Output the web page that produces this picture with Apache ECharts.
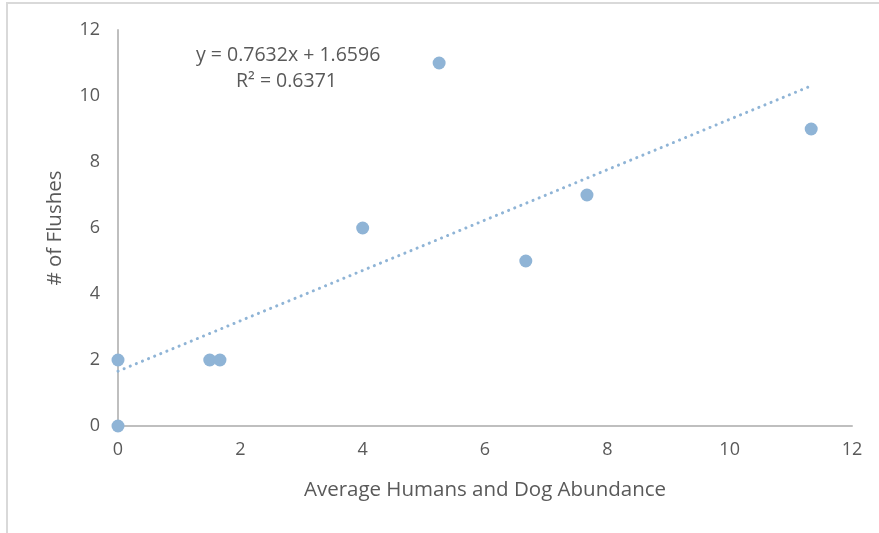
<!DOCTYPE html>
<html>
<head>
<meta charset="utf-8">
<script src="https://cdn.jsdelivr.net/npm/echarts@6/dist/echarts.min.js"></script>
<style>html,body{margin:0;padding:0;background:#fff;}#c{width:879px;height:533px;}</style>
</head>
<body>
<div id="c"></div>
<script>
const xValues = [0, 0, 1.5, 1.667, 4, 5.25, 6.667, 7.667, 11.333];
const yValues = [0, 2, 2, 2, 6, 11, 5, 7, 9];
const slope = 0.7632;
const intercept = 1.6596;
const rSquared = 0.6371;
const trendX = [0, 11.333];
const xTicks = [0, 2, 4, 6, 8, 10, 12];
const yTicks = [0, 2, 4, 6, 8, 10, 12];

const points = xValues.map((x, i) => [x, yValues[i]]);
const trend = trendX.map(x => [x, slope * x + intercept]);
const font = '"Open Sans", sans-serif';
const textColor = '#595959';
const chart = echarts.init(document.getElementById('c'));
chart.setOption({
  animation: false,
  grid: {left: 118, right: 27, top: 30, bottom: 107},
  xAxis: {
    type: 'value', min: 0, max: 12, interval: 2,
    name: 'Average Humans and Dog Abundance', nameLocation: 'middle', nameGap: 54,
    nameTextStyle: {color: textColor, fontSize: 20.5, fontFamily: font},
    axisLine: {show: true, onZero: false, lineStyle: {color: '#bfbfbf', width: 2}},
    axisTick: {show: false}, splitLine: {show: false},
    axisLabel: {color: textColor, fontSize: 18, fontFamily: font, margin: 15,
      formatter: v => xTicks.includes(v) ? String(v) : ''}
  },
  yAxis: {
    type: 'value', min: 0, max: 12, interval: 2,
    name: '# of Flushes', nameLocation: 'middle', nameGap: 52,
    nameTextStyle: {color: textColor, fontSize: 20.5, fontFamily: font},
    axisLine: {show: true, onZero: false, lineStyle: {color: '#bfbfbf', width: 2}},
    axisTick: {show: false}, splitLine: {show: false},
    axisLabel: {color: textColor, fontSize: 18, fontFamily: font, margin: 18,
      formatter: v => yTicks.includes(v) ? String(v) : ''}
  },
  graphic: [
    {type: 'rect', shape: {x: 6, y: 2, width: 873, height: 2}, style: {fill: '#d9d9d9'}},
    {type: 'rect', shape: {x: 6, y: 2, width: 2, height: 531}, style: {fill: '#d9d9d9'}},
    {type: 'text', left: 196, top: 45, style: {text: 'y = ' + slope + 'x + ' + intercept, fill: textColor, fontSize: 19.5, fontFamily: font}},
    {type: 'text', left: 236, top: 71, style: {text: 'R² = ' + rSquared, fill: textColor, fontSize: 19.5, fontFamily: font}}
  ],
  series: [
    {type: 'line', data: trend, symbol: 'none', z: 1,
      lineStyle: {color: '#8fb4d6', width: 3, type: [0.1, 6.5], cap: 'round'}},
    {type: 'scatter', data: points, symbolSize: 13, z: 3,
      itemStyle: {color: '#8fb4d6', opacity: 1}}
  ]
});
</script>
</body>
</html>
